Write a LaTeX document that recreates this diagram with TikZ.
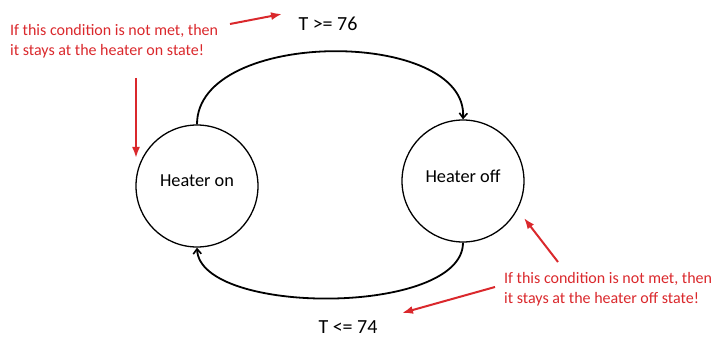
\documentclass[tikz,border=0pt]{standalone}
\usepackage{fontspec}
\setmainfont{Carlito}
\usetikzlibrary{arrows.meta}
\definecolor{annred}{RGB}{218,40,44}
\begin{document}
\begin{tikzpicture}[x=1pt,y=-1pt,
  state/.style={draw=black,line width=1.3pt,circle,minimum size=122pt,inner sep=0pt},
  trans/.style={line width=1.8pt,-{Straight Barb[length=5pt,width=8pt,line width=1.6pt]}},
  note/.style={text=annred,font=\fontsize{16}{20}\selectfont,align=left,anchor=north west,inner sep=0pt},
  cond/.style={font=\fontsize{20}{22}\selectfont,inner sep=0pt},
  redarrow/.style={draw=annred,line width=2pt,-{Latex[length=11pt,width=8pt]}}]
\useasboundingbox (0,0) rectangle (713,339);
\node[state] (on) at (197,186) {};
\node[font=\fontsize{18.3}{20}\selectfont] (ontext) at (197,181) {Heater on};
\node[state] (off) at (463,181) {};
\node[font=\fontsize{18.3}{20}\selectfont] (offtext) at (463,176) {Heater off};
\draw[trans] (on.north) .. controls (197,28) and (468,28) .. (off.north);
\draw[trans] (off.south) .. controls (463,316) and (200,316) .. (on.south);
\node[cond] (c1) at (328,24) {T >= 76};
\node[cond] (c2) at (348,327) {T <= 74};
\node[note] (n1) at (10,24) {If this condition is not met, then\\it stays at the heater on state!};
\node[note] (n2) at (504,272) {If this condition is not met, then\\it stays at the heater off state!};
\coordinate (a1s) at (230,24); \coordinate (a1e) at (282,14);
\coordinate (a2s) at (136,78); \coordinate (a2e) at (136,158);
\coordinate (a3s) at (558,262); \coordinate (a3e) at (524,218);
\coordinate (a4s) at (495,287); \coordinate (a4e) at (402,313);
\draw[redarrow] (a1s) -- (a1e);
\draw[redarrow] (a2s) -- (a2e);
\draw[redarrow] (a3s) -- (a3e);
\draw[redarrow] (a4s) -- (a4e);
\end{tikzpicture}
\end{document}
